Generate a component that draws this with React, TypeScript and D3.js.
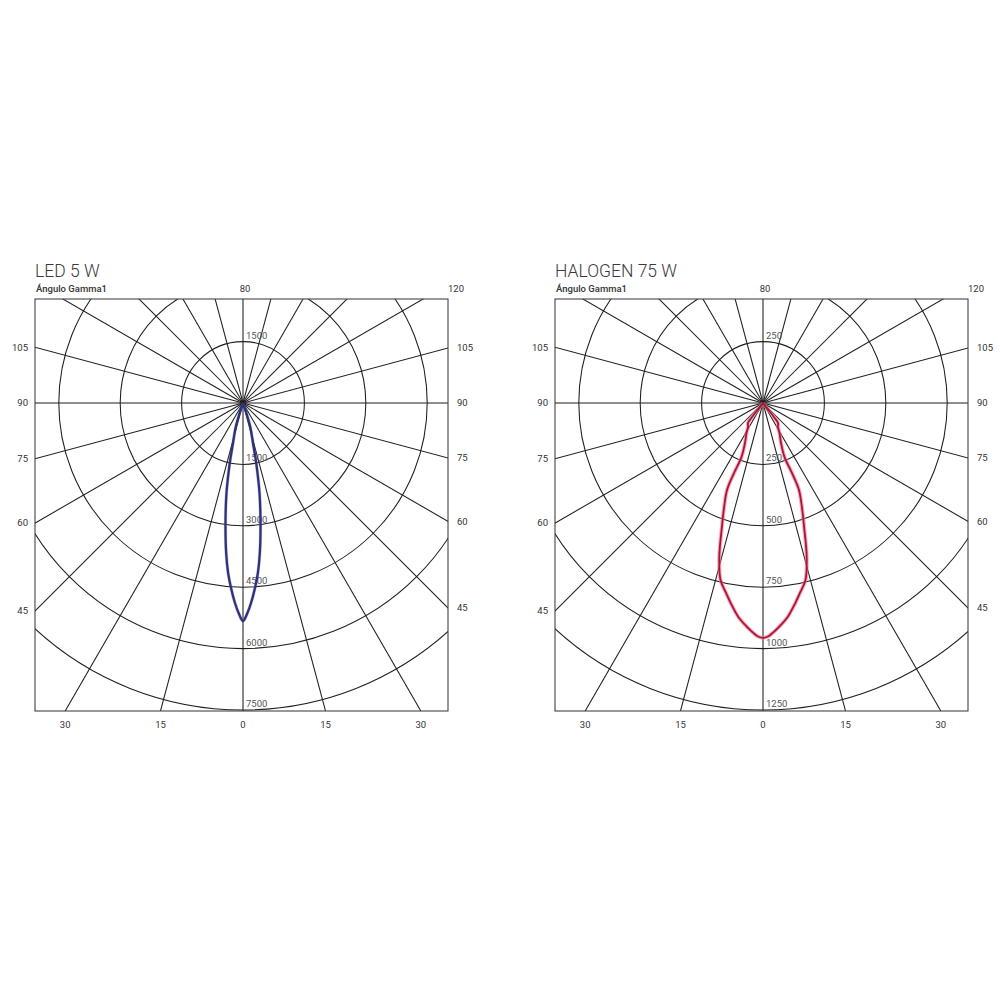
import React from "react";
import * as d3 from "d3";

// ---------- data ----------
const CHART_TITLES = ["LED 5 W", "HALOGEN 75 W"];
const AXIS_CAPTION = "Ángulo Gamma1";
const TOP_LABELS = ["80", "120"];
const SIDE_ANGLES = [105, 90, 75, 60, 45];
const BOTTOM_ANGLES = [-30, -15, 0, 15, 30];
const GRID_ANGLES = d3.range(0, 360, 15);

const LED_RINGS = [1500, 3000, 4500, 6000, 7500];
const HAL_RINGS = [250, 500, 750, 1000, 1250];

// LED 5 W: gamma angle (deg) vs intensity (cd)
const LED_GAMMA = [0, 1.2, 2.3, 3.7, 5.0, 6.4, 8.3, 10.4, 11.7, 12.8, 14.0, 16.7, 18.4, 20];
const LED_CD = [5326, 5131, 4890, 4529, 4169, 3687, 2963, 2235, 1746, 1378, 1007, 638, 309, 0];

// HALOGEN 75 W
const HAL_GAMMA = [0, 1.23, 2.41, 4.09, 6.58, 9.17, 11.0, 13.5, 15.84, 18.43, 20.38, 22.48, 22.5, 21.71, 24.23, 28.81, 32.0, 36.87, 38.16, 38.16, 40];
const HAL_CD = [956, 951, 937, 914, 877, 825, 788, 741, 652, 528, 456, 383, 309, 237, 179, 139, 115, 102, 72, 36, 0];

const FONT = "Roboto, 'Liberation Sans', Arial, sans-serif";

type Props = {
  cx: number;
  title: string;
  rings: number[];
  gamma: number[];
  cd: number[];
  halo: string;
  core: string;
  haloWidth: number;
  coreWidth: number;
  haloOpacity: number;
  id: string;
};

function Polar({ cx, title, rings, gamma, cd, halo, core, haloWidth, coreWidth, haloOpacity, id }: Props) {
  const cy = 403;
  const left = cx - 208;
  const right = cx + 205;
  const top = 299;
  const bottom = 711;
  const maxV = rings[rings.length - 1];
  const r = d3.scaleLinear().domain([0, maxV]).range([0, 307]);

  const pts: { a: number; v: number }[] = [];
  for (let i = gamma.length - 1; i >= 0; i--) pts.push({ a: Math.PI + (gamma[i] * Math.PI) / 180, v: cd[i] });
  for (let i = 1; i < gamma.length; i++) pts.push({ a: Math.PI - (gamma[i] * Math.PI) / 180, v: cd[i] });
  const line = d3
    .lineRadial<{ a: number; v: number }>()
    .angle((d) => d.a)
    .radius((d) => r(d.v))
    .curve(d3.curveCatmullRom.alpha(0.5));
  const path = line(pts) || "";

  const rad = (deg: number) => (deg * Math.PI) / 180;
  const far = 700;

  return (
    <g>
      <defs>
        <clipPath id={id}>
          <rect x={left} y={top} width={right - left} height={bottom - top} />
        </clipPath>
      </defs>
      <text x={left} y={277} fontFamily={FONT} fontWeight={300} fontSize={17.5} fill="#3a3a3a">
        {title}
      </text>
      <text x={left + 1} y={292} fontFamily={FONT} fontWeight={500} fontSize={9.5} fill="#333">
        {AXIS_CAPTION}
      </text>
      <text x={cx + 2} y={292} fontFamily={FONT} fontSize={9.5} fill="#333" textAnchor="middle">
        {TOP_LABELS[0]}
      </text>
      <text x={right + 8} y={292} fontFamily={FONT} fontSize={9.5} fill="#333" textAnchor="middle">
        {TOP_LABELS[1]}
      </text>

      <g clipPath={`url(#${id})`}>
        {rings.map((v) => (
          <circle key={v} cx={cx} cy={cy} r={r(v)} fill="none" stroke="#1e1e1e" strokeWidth={1.05} />
        ))}
        {GRID_ANGLES.map((a) => (
          <line
            key={a}
            x1={cx}
            y1={cy}
            x2={cx + far * Math.sin(rad(a))}
            y2={cy + far * Math.cos(rad(a))}
            stroke="#1e1e1e"
            strokeWidth={1.05}
          />
        ))}
      </g>
      <rect x={left} y={top} width={right - left} height={bottom - top} fill="none" stroke="#444" strokeWidth={1.1} />

      <text x={cx + 3} y={cy - r(rings[0]) - 3} fontFamily={FONT} fontSize={9.5} fill="#555">
        {rings[0]}
      </text>
      {rings.map((v) => (
        <text key={v} x={cx + 3} y={cy + r(v) - 3} fontFamily={FONT} fontSize={9.5} fill="#555">
          {v}
        </text>
      ))}

      <g transform={`translate(${cx},${cy})`}>
        <path d={path} fill="none" stroke={halo} strokeWidth={haloWidth} strokeOpacity={haloOpacity} strokeLinejoin="round" />
        <path d={path} fill="none" stroke={core} strokeWidth={coreWidth} strokeLinejoin="round" />
      </g>

      {SIDE_ANGLES.map((g) => {
        const cot = 1 / Math.tan(rad(g));
        return (
          <g key={g}>
            <text x={left - 7} y={cy + (cx - left) * cot} dy="0.35em" textAnchor="end" fontFamily={FONT} fontSize={9.5} fill="#333">
              {g}
            </text>
            <text x={right + 9} y={cy + (right - cx) * cot} dy="0.35em" textAnchor="start" fontFamily={FONT} fontSize={9.5} fill="#333">
              {g}
            </text>
          </g>
        );
      })}
      {BOTTOM_ANGLES.map((g, i) => (
        <text
          key={i}
          x={cx + (bottom - cy) * Math.tan(rad(g))}
          y={728}
          textAnchor="middle"
          fontFamily={FONT}
          fontSize={9.5}
          fill="#333"
        >
          {Math.abs(g)}
        </text>
      ))}
    </g>
  );
}

export default function App() {
  return (
    <svg width={1000} height={1000} style={{ position: "absolute", left: 0, top: 0, background: "#fff" }}>
      <rect width={1000} height={1000} fill="#fff" />
      <Polar
        id="clipL"
        cx={243}
        title={CHART_TITLES[0]}
        rings={LED_RINGS}
        gamma={LED_GAMMA}
        cd={LED_CD}
        halo="#a04a9a"
        core="#27367a"
        haloWidth={3.4}
        coreWidth={2.3}
        haloOpacity={0.3}
      />
      <Polar
        id="clipR"
        cx={763}
        title={CHART_TITLES[1]}
        rings={HAL_RINGS}
        gamma={HAL_GAMMA}
        cd={HAL_CD}
        halo="#f07a8c"
        core="#a8143a"
        haloWidth={4}
        coreWidth={1.8}
        haloOpacity={0.6}
      />
    </svg>
  );
}
